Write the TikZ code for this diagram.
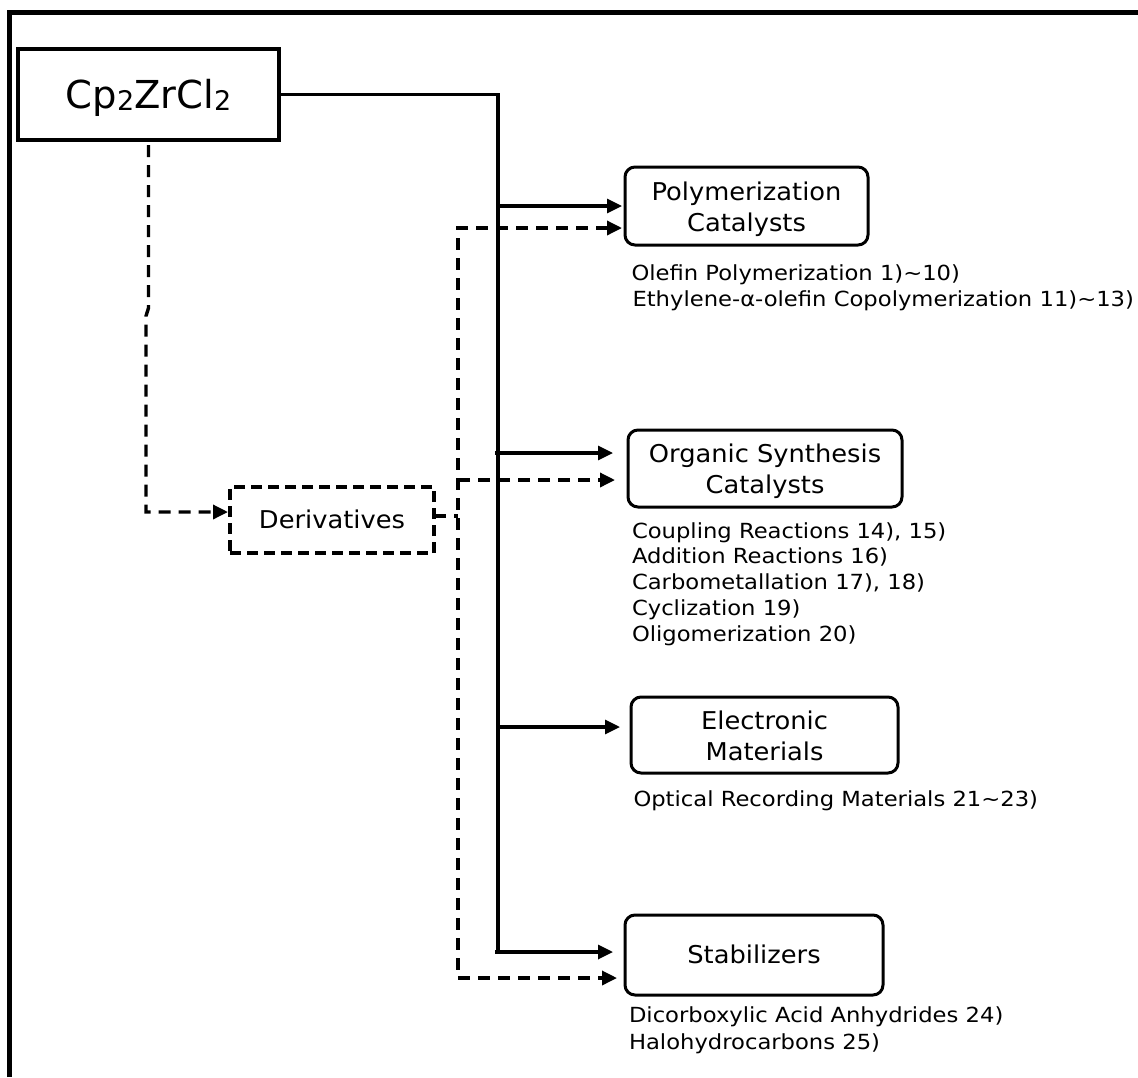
\documentclass[tikz,border=0pt]{standalone}
\usepackage{fontspec}
\setmainfont{DejaVu Sans}
\newfontfamily\labelfont{DejaVu Sans}[FakeStretch=1.05]
\newfontfamily\notefont{DejaVu Sans}[FakeStretch=1.09]
\usetikzlibrary{arrows.meta}

\begin{document}
\begin{tikzpicture}[x=1pt,y=-1pt,
  every node/.style={inner sep=0pt, outer sep=0pt},
  wire/.style={line width=3.2pt},
  dwire/.style={line width=3.4pt, dash pattern=on 12pt off 8pt},
  headed/.style={-{Triangle[length=15pt,width=14pt]}},
  twoheaded/.style={{Triangle[length=15pt,width=14pt]}-{Triangle[length=15pt,width=14pt]}},
  target/.style={draw, line width=3pt, rounded corners=10pt, align=center,
    font=\labelfont\fontsize{24.5}{31}\selectfont},
  note/.style={anchor=base west, font=\notefont\fontsize{20.8}{26}\selectfont},
]
\useasboundingbox (0,0) rectangle (1138,1077);
\fill[white] (0,0) rectangle (1138,1077);

% outer frame (top and left edges)
\draw[line width=4.5pt] (9.5,1077) -- (9.5,12.5) -- (1138,12.5);

% source compound and its derivatives
\node[draw, line width=3.2pt, minimum width=261pt, minimum height=91pt,
      text height=29pt, text depth=2pt, font=\fontsize{38.5}{38.5}\selectfont]
  (cp) at (148.5,94.5)
  {Cp\raisebox{-2pt}{\fontsize{27}{27}\selectfont 2}ZrCl\raisebox{-2pt}{\fontsize{27}{27}\selectfont 2}};
\node[draw, line width=3.2pt, dash pattern=on 11pt off 6pt,
      minimum width=204pt, minimum height=66pt, text height=18pt, text depth=1pt,
      font=\labelfont\fontsize{24.5}{31}\selectfont]
  (der) at (332,520) {Derivatives};

% application boxes
\node[target, minimum width=243pt, minimum height=78pt] (pol) at (746.5,206)
  {\rule{0pt}{24.5pt}Polymerization\\Catalysts};
\node[target, minimum width=274pt, minimum height=77pt] (org) at (765,468.5)
  {\rule{0pt}{24.5pt}Organic Synthesis\\Catalysts};
\node[target, minimum width=267pt, minimum height=76pt] (ele) at (764.5,735)
  {\rule{0pt}{21pt}Electronic\\Materials};
\node[target, minimum width=258pt, minimum height=80pt, text height=18pt, text depth=2pt]
  (sta) at (754,955) {Stabilizers};

% application notes
\node[note] (p1) at (631.5,280) {Olefin Polymerization 1)\textasciitilde10)};
\node[note] (p2) at (632.5,306.5) {Ethylene-α-olefin Copolymerization 11)\textasciitilde13)};
\node[note] (o1) at (632,538.5) {Coupling Reactions 14), 15)};
\node[note] (o2) at (632,563.5) {Addition Reactions 16)};
\node[note] (o3) at (632,589.5) {Carbometallation 17), 18)};
\node[note] (o4) at (632,615.5) {Cyclization 19)};
\node[note] (o5) at (632,641) {Oligomerization 20)};
\node[note] (e1) at (633.5,806.5) {Optical Recording Materials 21\textasciitilde23)};
\node[note] (s1) at (629,1022.5) {Dicorboxylic Acid Anhydrides 24)};
\node[note] (s2) at (629,1049) {Halohydrocarbons 25)};

% solid trunk: direct use of the compound
\coordinate (tbot) at (498,952);
\coordinate (b1) at (498,206);
\coordinate (b2) at (495,453);
\coordinate (b3) at (498,727);
\coordinate (b4) at (495,952);
\draw[wire] (cp.east) -| (tbot);
\draw[wire, headed, shorten >=3pt]  (b1) -- (pol.west |- b1);
\draw[wire, headed, shorten >=15pt] (b2) -- (org.west |- b2);
\draw[wire, headed, shorten >=11pt] (b3) -- (ele.west |- b3);
\draw[wire, headed, shorten >=12pt] (b4) -- (sta.west |- b4);

% dashed route: compound to derivatives
\coordinate (k1) at (148.5,308);
\coordinate (k2) at (146,316);
\coordinate (k3) at (146,512);
\draw[dwire, headed, shorten >=2pt]
  ([yshift=-5pt]cp.south) -- (k1) -- (k2) -- (k3) -- (der.west |- k3);

% dashed trunk: use of the derivatives
\coordinate (dtop) at (458,228);
\coordinate (dmid) at (458,480);
\coordinate (dstub) at (458,516);
\coordinate (dbot) at (458,978);
\draw[dwire] ([yshift=4pt]der.east) -- (dstub);
\draw[dwire, twoheaded, shorten <=3pt, shorten >=8pt]
  (pol.west |- dtop) -- (dtop) -- (dbot) -- (sta.west |- dbot);
\draw[dwire, headed, shorten >=13pt] (dmid) -- (org.west |- dmid);
\end{tikzpicture}
\end{document}
